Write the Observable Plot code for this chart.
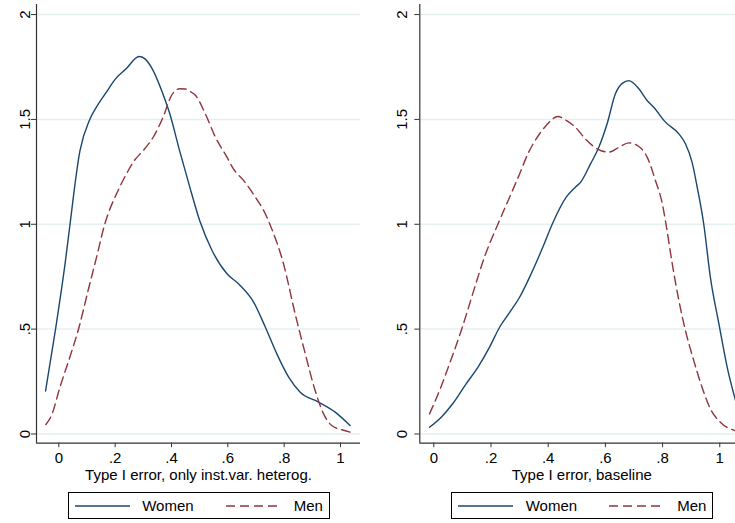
<!DOCTYPE html>
<html>
<head>
<meta charset="utf-8">
<script src="https://cdn.jsdelivr.net/npm/d3@7"></script>
<script src="https://cdn.jsdelivr.net/npm/@observablehq/plot@0.6"></script>
<style>
  html, body { margin: 0; padding: 0; background: #fff; }
  body { width: 735px; height: 523px; overflow: hidden; position: relative;
         font-family: "Liberation Sans", Arial, sans-serif; }
  .panel { position: absolute; top: 0; }
  .panel svg { max-width: none !important; display: block; }
  .legend { position: absolute; top: 492px; height: 25px; border: 1px solid #000; box-sizing: content-box; }
  .legend .sw { position: absolute; top: 0; }
  .legend .lab { position: absolute; top: 4px; font-size: 15px; color: #000; line-height: 17px; }
</style>
</head>
<body>
<div id="left" class="panel" style="left:0px; width:370px"></div>
<div id="right" class="panel" style="left:370px; width:380px"></div>
<div id="legL" class="legend"></div>
<div id="legR" class="legend"></div>
<script>
// ---------- data ----------
const seriesNames = ["Women", "Men"];
const seriesColors = ["#1a476f", "#90353b"];
const xTicks = [0, 0.2, 0.4, 0.6, 0.8, 1];
const yTicks = [0, 0.5, 1, 1.5, 2];
const titleLeft = "Type I error, only inst.var. heterog.";
const titleRight = "Type I error, baseline";

// Left panel: only inst.var. heterog.
const womenLeftX = [-0.047, -0.011, 0.024, 0.037, 0.075, 0.11, 0.134, 0.169, 0.199, 0.238, 0.285, 0.305, 0.335, 0.37, 0.394, 0.429, 0.465, 0.5, 0.544, 0.597, 0.638, 0.692, 0.733, 0.774, 0.816, 0.857, 0.922, 0.981, 1.034];
const womenLeftY = [0.205, 0.505, 0.83, 0.97, 1.35, 1.5, 1.56, 1.63, 1.69, 1.74, 1.80, 1.79, 1.733, 1.62, 1.527, 1.35, 1.177, 1.018, 0.875, 0.764, 0.716, 0.628, 0.51, 0.382, 0.271, 0.199, 0.152, 0.104, 0.04];
const menLeftX = [-0.046, -0.026, 0.004, 0.039, 0.072, 0.104, 0.134, 0.163, 0.21, 0.24, 0.264, 0.305, 0.335, 0.37, 0.40, 0.429, 0.45, 0.47, 0.485, 0.52, 0.556, 0.597, 0.62, 0.656, 0.698, 0.727, 0.751, 0.798, 0.839, 0.875, 0.91, 0.94, 0.969, 1.005, 1.034];
const menLeftY = [0.045, 0.088, 0.223, 0.366, 0.51, 0.684, 0.843, 1.0, 1.16, 1.24, 1.296, 1.36, 1.415, 1.51, 1.614, 1.646, 1.645, 1.63, 1.615, 1.527, 1.415, 1.32, 1.264, 1.209, 1.129, 1.066, 0.994, 0.81, 0.573, 0.382, 0.207, 0.096, 0.04, 0.02, 0.009];

// Right panel: baseline
const womenRightX = [-0.015, 0.026, 0.066, 0.113, 0.154, 0.195, 0.23, 0.27, 0.30, 0.335, 0.381, 0.414, 0.463, 0.495, 0.513, 0.548, 0.577, 0.606, 0.635, 0.659, 0.682, 0.717, 0.746, 0.769, 0.81, 0.857, 0.88, 0.903, 0.921, 0.944, 0.967, 0.997, 1.026, 1.055];
const womenRightY = [0.032, 0.08, 0.144, 0.239, 0.318, 0.414, 0.509, 0.589, 0.652, 0.748, 0.89, 1.0, 1.129, 1.177, 1.2, 1.288, 1.367, 1.479, 1.622, 1.672, 1.685, 1.646, 1.59, 1.558, 1.487, 1.431, 1.384, 1.296, 1.177, 1.0, 0.748, 0.525, 0.318, 0.16];
const menRightX = [-0.015, 0.02, 0.055, 0.096, 0.136, 0.177, 0.224, 0.265, 0.30, 0.329, 0.358, 0.393, 0.434, 0.463, 0.495, 0.53, 0.571, 0.612, 0.647, 0.682, 0.717, 0.746, 0.775, 0.799, 0.812, 0.834, 0.857, 0.88, 0.909, 0.938, 0.967, 1.002, 1.052];
const menRightY = [0.096, 0.207, 0.335, 0.493, 0.668, 0.843, 1.0, 1.129, 1.24, 1.336, 1.407, 1.471, 1.514, 1.495, 1.463, 1.407, 1.36, 1.344, 1.367, 1.388, 1.371, 1.32, 1.209, 1.098, 1.0, 0.81, 0.636, 0.493, 0.35, 0.223, 0.12, 0.056, 0.017];

// ---------- helpers ----------
const FONT = '"Liberation Sans", Arial, sans-serif';
const fmt = d => d === 0 ? "0" : String(d).replace(/^0\./, ".");
const toRows = (xs, ys, s) => xs.map((x, i) => ({x, y: ys[i], s}));
const DASH = "9,5";

function panel({width, marginLeft, marginRight, xDomain, women, men, title, yLabOff}) {
  const yDomain = [-0.044, 2.048];
  const pxPerUnit = (width - marginLeft - marginRight) / (xDomain[1] - xDomain[0]);
  const labX = xDomain[0] - yLabOff / pxPerUnit;
  return Plot.plot({
    width, height: 480,
    marginLeft, marginRight, marginTop: 4, marginBottom: 37.3,
    style: {fontFamily: FONT, fontSize: "15px", color: "#000", background: "transparent", overflow: "visible"},
    x: {domain: xDomain},
    y: {domain: yDomain},
    marks: [
      Plot.gridY(yTicks, {stroke: "#e6eff0", strokeOpacity: 1, strokeWidth: 1.5}),
      Plot.axisX({ticks: xTicks, tickFormat: fmt, tickSize: 4.5, tickPadding: 5, label: null, fontSize: 15, stroke: "#333"}),
      Plot.axisY({ticks: yTicks, tickFormat: () => "", tickSize: 5, label: null, stroke: "#333"}),
      Plot.text(yTicks, {x: () => labX, y: d => d, text: fmt, rotate: -90,
        textAnchor: "middle", lineAnchor: "middle", fontSize: 15, fill: "#000"}),
      Plot.ruleX([xDomain[0]], {stroke: "#333", strokeWidth: 1.2}),
      Plot.ruleY([yDomain[0]], {stroke: "#333", strokeWidth: 1.2}),
      Plot.line(women, {x: "x", y: "y", stroke: seriesColors[0], strokeWidth: 1.4, curve: "monotone-x"}),
      Plot.line(men, {x: "x", y: "y", stroke: seriesColors[1], strokeWidth: 1.4, strokeDasharray: DASH, curve: "monotone-x"}),
      Plot.text([title], {frameAnchor: "bottom", dy: 31.5, lineAnchor: "middle", fontSize: 15, fill: "#000"})
    ]
  });
}

document.getElementById("left").appendChild(panel({
  width: 370, marginLeft: 36, marginRight: 10, xDomain: [-0.0792, 1.071],
  women: toRows(womenLeftX, womenLeftY, "Women"), men: toRows(menLeftX, menLeftY, "Men"),
  title: titleLeft, yLabOff: 11
}));
document.getElementById("right").appendChild(panel({
  width: 380, marginLeft: 49.3, marginRight: 6.7, xDomain: [-0.049, 1.084],
  women: toRows(womenRightX, womenRightY, "Women"), men: toRows(menRightX, menRightY, "Men"),
  title: titleRight, yLabOff: 18
}));

// ---------- legends ----------
function legend(id, left, items) {
  const el = document.getElementById(id);
  el.style.left = left + "px";
  el.style.width = "260px";
  items.forEach((it, i) => {
    const sw = document.createElementNS("http://www.w3.org/2000/svg", "svg");
    sw.setAttribute("class", "sw");
    sw.setAttribute("width", 56); sw.setAttribute("height", 25);
    sw.style.left = it.lineX + "px";
    const ln = document.createElementNS("http://www.w3.org/2000/svg", "line");
    ln.setAttribute("x1", 0); ln.setAttribute("x2", 55);
    ln.setAttribute("y1", 13); ln.setAttribute("y2", 13);
    ln.setAttribute("stroke", seriesColors[i]);
    ln.setAttribute("stroke-width", 1.4);
    if (i === 1) ln.setAttribute("stroke-dasharray", DASH);
    sw.appendChild(ln);
    el.appendChild(sw);
    const t = document.createElement("span");
    t.className = "lab";
    t.textContent = seriesNames[i];
    t.style.left = it.textX + "px";
    el.appendChild(t);
  });
}
legend("legL", 67.7, [{lineX: 6, textX: 73.5}, {lineX: 157.5, textX: 225}]);
legend("legR", 450.7, [{lineX: 6.5, textX: 74}, {lineX: 157.5, textX: 225.5}]);
</script>
</body>
</html>
